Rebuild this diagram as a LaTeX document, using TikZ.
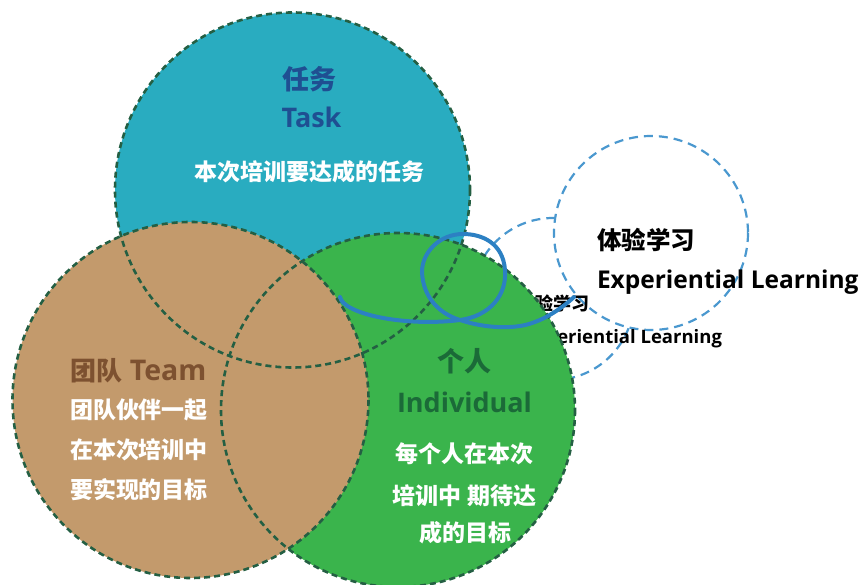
\documentclass[tikz,border=0pt]{standalone}
\usepackage{fontspec}
\newfontfamily\cjk{Noto Sans CJK SC}
\newfontfamily\lat{Open Sans}
\definecolor{taskc}{HTML}{29ACC0}
\definecolor{teamc}{HTML}{C39A6C}
\definecolor{indc}{HTML}{3AB44C}
\definecolor{taskt}{HTML}{1F4F92}
\definecolor{teamt}{HTML}{7D5130}
\definecolor{indt}{HTML}{1B6A38}
\definecolor{outl}{HTML}{245F43}
\definecolor{bdash}{HTML}{4A98CF}
\definecolor{loopc}{HTML}{2C80C3}
\tikzset{
  outline/.style={draw=outl, line width=2.6pt, dash pattern=on 6pt off 4pt},
  bluering/.style={draw=bdash, line width=2.2pt, dash pattern=on 9pt off 6pt, fill=white},
  lbl/.style={inner sep=0pt, outer sep=0pt},
}
\begin{document}
\begin{tikzpicture}[x=1pt,y=-1pt]
\useasboundingbox (0,0) rectangle (863,585);
% fills
\fill[taskc] (292.5,190) circle (177.5);
\path[bluering] (553,299) circle (81);
\path[bluering] (651,233) circle (97);
% small experiential text (partly hidden)
\node[lbl, anchor=west] (sexp1) at (517,304) {\cjk\fontsize{18}{18}\selectfont\bfseries 体验学习};
\node[lbl, anchor=east] (sexp2) at (722,339) {\lat\fontsize{18.5}{18.5}\selectfont\bfseries Experiential Learning};
\fill[indc] (398,410) circle (177);
\fill[teamc] (190.5,400) circle (178);
% outlines
\draw[outline] (292.5,190) circle (177.5);
\draw[outline] (398,410) circle (177);
\draw[outline] (190.5,400) circle (178);
% loop
\draw[loopc, line width=4pt, line cap=round]
  (340,297) .. controls (343,314) and (405,327) .. (460,320)
  .. controls (490,316) and (507,295) .. (505,270)
  .. controls (503,243) and (482,234) .. (463,234)
  .. controls (440,234) and (422,252) .. (422,272)
  .. controls (423,298) and (440,314) .. (460,320)
  .. controls (478,326) and (500,329) .. (520,326)
  .. controls (540,323) and (560,310) .. (574,297);
% Task texts
\node[lbl, text=taskt] (t1) at (309,79) {\cjk\fontsize{27}{27}\selectfont\bfseries 任务};
\node[lbl, text=taskt, anchor=base] (t2) at (311.5,128) {\lat\fontsize{27}{27}\selectfont\bfseries Task};
\node[lbl, text=white] (t3) at (309,172) {\cjk\fontsize{23}{23}\selectfont\bfseries 本次培训要达成的任务};
% Team texts
\node[lbl, anchor=west, text=teamt] (m1) at (70,371) {\cjk\fontsize{26}{26}\selectfont\bfseries 团队\hspace{0.3em}{\lat\fontsize{28.5}{28.5}\selectfont Team}};
\node[lbl, anchor=west, text=white] (m2) at (70,410) {\cjk\fontsize{23}{23}\selectfont\bfseries 团队伙伴一起};
\node[lbl, anchor=west, text=white] (m3) at (70,450) {\cjk\fontsize{23}{23}\selectfont\bfseries 在本次培训中};
\node[lbl, anchor=west, text=white] (m4) at (70,490) {\cjk\fontsize{23}{23}\selectfont\bfseries 要实现的目标};
% Individual texts
\node[lbl, text=indt] (i1) at (464,361) {\cjk\fontsize{27}{27}\selectfont\bfseries 个人};
\node[lbl, text=indt, anchor=base] (i2) at (464.5,413) {\lat\fontsize{27}{27}\selectfont\bfseries Individual};
\node[lbl, text=white] (i3) at (464,454) {\cjk\fontsize{23}{23}\selectfont\bfseries 每个人在本次};
\node[lbl, text=white] (i4) at (464.5,496) {\cjk\fontsize{23}{23}\selectfont\bfseries 培训中 期待达};
\node[lbl, text=white] (i5) at (465,533) {\cjk\fontsize{23}{23}\selectfont\bfseries 成的目标};
% Experiential big texts
\node[lbl, anchor=west] (e1) at (597,240) {\cjk\fontsize{24.5}{24.5}\selectfont\bfseries 体验学习};
\node[lbl, anchor=base west] (e2) at (597,289) {\lat\fontsize{24.5}{24.5}\selectfont\bfseries Experiential Learning};
\end{tikzpicture}
\end{document}
